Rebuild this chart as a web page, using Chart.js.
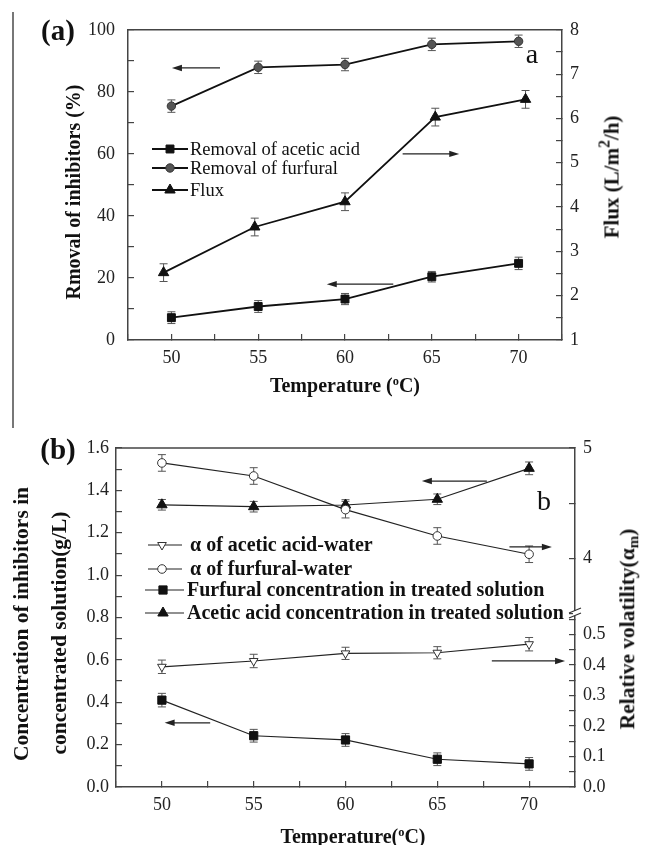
<!DOCTYPE html>
<html><head><meta charset="utf-8">
<script src="https://cdn.jsdelivr.net/npm/chart.js@4.4.1/dist/chart.umd.min.js"></script>
<style>
html,body{margin:0;padding:0;background:#fff;}
body{width:651px;height:845px;position:relative;overflow:hidden;font-family:'Liberation Serif','Times New Roman',serif;color:#111;}
canvas{position:absolute;left:0;}
#ca{top:0;}
#cb{top:400px;}
#vline{position:absolute;left:12px;top:12px;width:1.5px;height:416px;background:#777;}
.t{position:absolute;white-space:nowrap;line-height:1;transform:translate(-50%,-50%);}
.r{transform:translate(-50%,-50%) rotate(-90deg);}
.b{font-weight:bold;}
sup{font-size:0.62em;vertical-align:0.55em;line-height:0;}
sup.big{font-size:0.75em;}
sub{font-size:0.7em;vertical-align:-0.25em;line-height:0;}
</style></head><body>
<div id="vline"></div>
<canvas id="ca" width="651" height="400"></canvas>
<canvas id="cb" width="651" height="445"></canvas>

<div class="t b" style="left:58px;top:30px;font-size:29px">(a)</div>
<div class="t b" style="left:58px;top:449px;font-size:29px">(b)</div>
<div class="t" style="left:532px;top:54px;font-size:28px">a</div>
<div class="t" style="left:544px;top:501px;font-size:28px">b</div>

<div class="t b r" style="left:73px;top:192px;font-size:20px">Rmoval of inhibitors (%)</div>
<div class="t b r" style="left:612px;top:177px;font-size:21px">Flux (L/m<sup class="big">2</sup>/h)</div>
<div class="t b" style="left:345px;top:385px;font-size:20px">Temperature (<sup>o</sup>C)</div>

<div class="t b r" style="left:22px;top:624px;font-size:21.5px">Concentration of inhibitors in</div>
<div class="t b r" style="left:60px;top:633px;font-size:21.5px">concentrated solution(g/L)</div>
<div class="t b r" style="left:628px;top:629px;font-size:21.5px">Relative volatility(α<sub>m</sub>)</div>
<div class="t b" style="left:353px;top:836px;font-size:20px">Temperature(<sup>o</sup>C)</div>

<script>
// ---------- data ----------
const temps = [50, 55, 60, 65, 70];
const fluxTemps = [49.55, 54.8, 60, 65.2, 70.4];

const aceticRemoval = [7.2, 10.8, 13.2, 20.4, 24.7];
const aceticRemovalErr = [1.9, 1.9, 1.8, 1.7, 2.0];
const furfuralRemoval = [75.4, 87.9, 88.8, 95.3, 96.3];
const furfuralRemovalErr = [2.0, 2.0, 2.0, 2.0, 2.0];
const flux = [2.52, 3.55, 4.12, 6.03, 6.43];
const fluxErr = [0.2, 0.2, 0.2, 0.2, 0.2];

const alphaAcetic = [0.394, 0.413, 0.438, 0.44, 0.468];
const alphaAceticErr = [0.022, 0.022, 0.02, 0.02, 0.022];
const alphaFurfural = [4.865, 4.747, 4.443, 4.205, 4.04];
const alphaFurfuralErr = [0.075, 0.075, 0.075, 0.075, 0.075];
const furfuralConc = [0.41, 0.242, 0.222, 0.131, 0.109];
const furfuralConcErr = [0.032, 0.03, 0.03, 0.03, 0.03];
const aceticConc = [1.332, 1.323, 1.331, 1.358, 1.504];
const aceticConcErr = [0.025, 0.025, 0.025, 0.025, 0.03];

const xTickLabels = [50, 55, 60, 65, 70];
const removalTickLabels = [0, 20, 40, 60, 80, 100];
const fluxTickLabels = [1, 2, 3, 4, 5, 6, 7, 8];
const concTickLabels = [0, 0.2, 0.4, 0.6, 0.8, 1.0, 1.2, 1.4, 1.6];
const alphaHighTickLabels = [4, 5];
const alphaLowTickLabels = [0, 0.1, 0.2, 0.3, 0.4, 0.5];

// arrows (data units)
const arrowsA = [
  {x1: 52.8, x2: 50.03, y: 87.7, axis: 'y'},
  {x1: 63.32, x2: 66.58, y: 60, axis: 'y'},
  {x1: 62.78, x2: 58.95, y: 18, axis: 'y'}
];
const arrowsB = [
  {x1: 67.7, x2: 64.16, y: 1.444, axis: 'y'},
  {x1: 68.93, x2: 71.24, y: 1.133, axis: 'y'},
  {x1: 67.97, x2: 71.96, y: 0.595, axis: 'y'},
  {x1: 52.63, x2: 50.15, y: 0.303, axis: 'y'}
];

// ---------- helpers ----------
const SERIF = "'Liberation Serif','Times New Roman',serif";
Chart.defaults.font.family = SERIF;
Chart.defaults.color = '#222';

const pts = (xs, ys) => xs.map((x, i) => ({x: x, y: ys[i]}));
const near = (v, list) => list.some(l => Math.abs(v - l) < 1e-6);

function drawMarker(ctx, ds, x, y) {
  const r = ds.pointRadius, st = ds.pointStyle;
  let rad = (ds.pointRotation || 0) * Math.PI / 180;
  ctx.save();
  ctx.fillStyle = ds.pointBackgroundColor;
  ctx.strokeStyle = ds.pointBorderColor;
  ctx.lineWidth = ds.pointBorderWidth;
  ctx.beginPath();
  if (st === 'rect') {
    const s = r * Math.SQRT1_2;
    ctx.rect(x - s, y - s, 2 * s, 2 * s);
  } else if (st === 'circle') {
    ctx.arc(x, y, r, 0, Math.PI * 2);
  } else {
    for (let k = 0; k < 3; k++) {
      const px = x + Math.sin(rad) * r, py = y - Math.cos(rad) * r;
      if (k === 0) ctx.moveTo(px, py); else ctx.lineTo(px, py);
      rad += Math.PI * 2 / 3;
    }
    ctx.closePath();
  }
  ctx.fill();
  ctx.stroke();
  ctx.restore();
}

const errorBars = {
  id: 'errorBars',
  beforeDatasetsDraw(chart) {
    const ctx = chart.ctx;
    ctx.save();
    ctx.strokeStyle = '#555';
    ctx.lineWidth = 1;
    chart.data.datasets.forEach((ds, i) => {
      if (!ds.errors) return;
      const meta = chart.getDatasetMeta(i);
      const xs = chart.scales[meta.xAxisID], ys = chart.scales[meta.yAxisID];
      ds.data.forEach((p, j) => {
        const x = xs.getPixelForValue(p.x);
        const t = ys.getPixelForValue(p.y + ds.errors[j]);
        const b = ys.getPixelForValue(p.y - ds.errors[j]);
        ctx.beginPath();
        ctx.moveTo(x, t); ctx.lineTo(x, b);
        ctx.moveTo(x - 4, t); ctx.lineTo(x + 4, t);
        ctx.moveTo(x - 4, b); ctx.lineTo(x + 4, b);
        ctx.stroke();
      });
    });
    ctx.restore();
  }
};

function makeArrows(list) {
  return {
    id: 'arrows',
    afterDatasetsDraw(chart) {
      const ctx = chart.ctx;
      ctx.save();
      ctx.strokeStyle = '#222';
      ctx.fillStyle = '#222';
      ctx.lineWidth = 1.2;
      list.forEach(a => {
        const xs = chart.scales.x, ys = chart.scales[a.axis];
        const x1 = xs.getPixelForValue(a.x1), x2 = xs.getPixelForValue(a.x2), y = ys.getPixelForValue(a.y);
        const dir = x2 > x1 ? 1 : -1;
        ctx.beginPath();
        ctx.moveTo(x1, y); ctx.lineTo(x2 - dir * 6, y);
        ctx.stroke();
        ctx.beginPath();
        ctx.moveTo(x2, y);
        ctx.lineTo(x2 - dir * 10, y - 3.2);
        ctx.lineTo(x2 - dir * 10, y + 3.2);
        ctx.closePath();
        ctx.fill();
      });
      ctx.restore();
    }
  };
}

function makeLegend(items, font) {
  return {
    id: 'sketchLegend',
    afterDraw(chart) {
      const ctx = chart.ctx;
      ctx.save();
      items.forEach(it => {
        const ds = chart.data.datasets[it.ds];
        ctx.strokeStyle = ds.borderColor;
        ctx.lineWidth = ds.borderWidth;
        ctx.beginPath();
        ctx.moveTo(it.x1, it.y); ctx.lineTo(it.x2, it.y);
        ctx.stroke();
        drawMarker(ctx, ds, it.mx, it.y);
        ctx.fillStyle = '#111';
        ctx.font = font;
        ctx.textAlign = 'left';
        ctx.textBaseline = 'middle';
        ctx.fillText(ds.label, it.tx, it.y + 1);
      });
      ctx.restore();
    }
  };
}

const frame = {
  id: 'frame',
  afterDraw(chart) {
    const ctx = chart.ctx, a = chart.chartArea;
    ctx.save();
    ctx.strokeStyle = '#444';
    ctx.lineWidth = 1.5;
    ctx.beginPath();
    ctx.moveTo(a.left, a.top); ctx.lineTo(a.right, a.top);
    ctx.stroke();
    ctx.restore();
  }
};

const axisBreak = {
  id: 'axisBreak',
  afterDraw(chart) {
    const s = chart.scales.yBot;
    if (!s) return;
    const ctx = chart.ctx, x = s.left, y = s.top;
    ctx.save();
    ctx.fillStyle = '#fff';
    ctx.fillRect(x - 2, y - 3, 4, 5);
    ctx.strokeStyle = '#333';
    ctx.lineWidth = 1.2;
    ctx.beginPath();
    ctx.moveTo(x - 6, y - 1); ctx.lineTo(x + 6, y - 6);
    ctx.moveTo(x - 6, y + 4); ctx.lineTo(x + 6, y - 1);
    ctx.stroke();
    ctx.restore();
  }
};

const tickFont = {size: 18, family: SERIF};
const gridOpts = {drawOnChartArea: false, tickLength: -6, color: '#444', lineWidth: 1.2};
const borderOpts = {color: '#444', width: 1.5};

function xScale(h) {
  return {
    type: 'linear', position: 'bottom', min: 47.5, max: 72.5,
    ticks: {stepSize: 2.5, autoSkip: false, maxRotation: 0, font: tickFont, color: '#222', padding: 13,
      callback: v => near(v, xTickLabels) ? String(Math.round(v)) : ''},
    grid: gridOpts, border: borderOpts,
    afterFit: s => { s.height = h; }
  };
}

// ---------- chart A ----------
new Chart(document.getElementById('ca'), {
  type: 'line',
  data: {
    datasets: [
      {label: 'Removal of acetic acid', data: pts(temps, aceticRemoval), errors: aceticRemovalErr, yAxisID: 'y',
        borderColor: '#111', borderWidth: 1.8, pointStyle: 'rect', pointRadius: 5.6,
        pointBackgroundColor: '#111', pointBorderColor: '#111', pointBorderWidth: 1},
      {label: 'Removal of furfural', data: pts(temps, furfuralRemoval), errors: furfuralRemovalErr, yAxisID: 'y',
        borderColor: '#111', borderWidth: 1.8, pointStyle: 'circle', pointRadius: 4.2,
        pointBackgroundColor: '#555', pointBorderColor: '#333', pointBorderWidth: 1},
      {label: 'Flux', data: pts(fluxTemps, flux), errors: fluxErr, yAxisID: 'y1',
        borderColor: '#111', borderWidth: 1.8, pointStyle: 'triangle', pointRadius: 6,
        pointBackgroundColor: '#111', pointBorderColor: '#111', pointBorderWidth: 1}
    ]
  },
  options: {
    responsive: false, animation: false, devicePixelRatio: 1, events: [],
    layout: {padding: {top: 20, left: 0, right: 0, bottom: 0}},
    elements: {line: {tension: 0, fill: false}},
    plugins: {legend: {display: false}, tooltip: {enabled: false}},
    scales: {
      x: xScale(60),
      y: {position: 'left', min: 0, max: 100,
        ticks: {stepSize: 10, autoSkip: false, font: tickFont, color: '#222', padding: 19,
          callback: v => near(v, removalTickLabels) ? String(v) : ''},
        grid: gridOpts, border: borderOpts, afterFit: s => { s.width = 128; }},
      y1: {position: 'right', min: 1, max: 8,
        ticks: {stepSize: 0.5, autoSkip: false, font: tickFont, color: '#222', padding: 14,
          callback: v => near(v, fluxTickLabels) ? String(v) : ''},
        grid: gridOpts, border: borderOpts, afterFit: s => { s.width = 89; }}
    }
  },
  plugins: [errorBars, makeArrows(arrowsA), frame,
    makeLegend([
      {ds: 0, y: 149, x1: 152, x2: 188, mx: 170, tx: 190},
      {ds: 1, y: 168, x1: 152, x2: 188, mx: 170, tx: 190},
      {ds: 2, y: 190, x1: 152, x2: 188, mx: 170, tx: 190}
    ], "18.5px " + SERIF)]
});

// ---------- chart B ----------
new Chart(document.getElementById('cb'), {
  type: 'line',
  data: {
    datasets: [
      {label: 'α of acetic acid-water', data: pts(temps, alphaAcetic), errors: alphaAceticErr, yAxisID: 'yBot',
        borderColor: '#222', borderWidth: 1.2, pointStyle: 'triangle', pointRotation: 180, pointRadius: 5,
        pointBackgroundColor: '#fff', pointBorderColor: '#333', pointBorderWidth: 1},
      {label: 'α of furfural-water', data: pts(temps, alphaFurfural), errors: alphaFurfuralErr, yAxisID: 'yTop',
        borderColor: '#222', borderWidth: 1.2, pointStyle: 'circle', pointRadius: 4.3,
        pointBackgroundColor: '#fff', pointBorderColor: '#333', pointBorderWidth: 1},
      {label: 'Furfural concentration in treated solution', data: pts(temps, furfuralConc), errors: furfuralConcErr, yAxisID: 'y',
        borderColor: '#222', borderWidth: 1.2, pointStyle: 'rect', pointRadius: 5.8,
        pointBackgroundColor: '#111', pointBorderColor: '#111', pointBorderWidth: 1},
      {label: 'Acetic acid concentration in treated solution', data: pts(temps, aceticConc), errors: aceticConcErr, yAxisID: 'y',
        borderColor: '#222', borderWidth: 1.2, pointStyle: 'triangle', pointRadius: 6,
        pointBackgroundColor: '#111', pointBorderColor: '#111', pointBorderWidth: 1}
    ]
  },
  options: {
    responsive: false, animation: false, devicePixelRatio: 1, events: [],
    layout: {padding: {top: 48, left: 0, right: 0, bottom: 0}},
    elements: {line: {tension: 0, fill: false}},
    plugins: {legend: {display: false}, tooltip: {enabled: false}},
    scales: {
      x: xScale(58),
      y: {position: 'left', min: 0, max: 1.6,
        ticks: {stepSize: 0.1, autoSkip: false, font: tickFont, color: '#222', padding: 13,
          callback: v => near(v, concTickLabels) ? v.toFixed(1) : ''},
        grid: gridOpts, border: borderOpts, afterFit: s => { s.width = 116; }},
      yTop: {position: 'right', stack: 'right', stackWeight: 166, min: 3.5, max: 5,
        ticks: {stepSize: 0.5, autoSkip: false, font: tickFont, color: '#222', padding: 14,
          callback: v => near(v, alphaHighTickLabels) ? String(v) : ''},
        grid: gridOpts, border: borderOpts, afterFit: s => { s.width = 76; }},
      yBot: {position: 'right', stack: 'right', stackWeight: 173, min: 0, max: 0.567,
        ticks: {stepSize: 0.05, autoSkip: false, includeBounds: false, font: tickFont, color: '#222', padding: 14,
          callback: v => near(v, alphaLowTickLabels) ? v.toFixed(1) : ''},
        grid: gridOpts, border: borderOpts, afterFit: s => { s.width = 76; }}
    }
  },
  plugins: [errorBars, makeArrows(arrowsB), frame, axisBreak,
    makeLegend([
      {ds: 0, y: 145, x1: 148, x2: 182, mx: 162, tx: 190},
      {ds: 1, y: 169, x1: 148, x2: 182, mx: 162, tx: 190},
      {ds: 2, y: 190, x1: 145, x2: 184, mx: 163, tx: 187},
      {ds: 3, y: 213, x1: 145, x2: 184, mx: 163, tx: 187}
    ], "bold 20px " + SERIF)]
});
</script>
</body></html>
